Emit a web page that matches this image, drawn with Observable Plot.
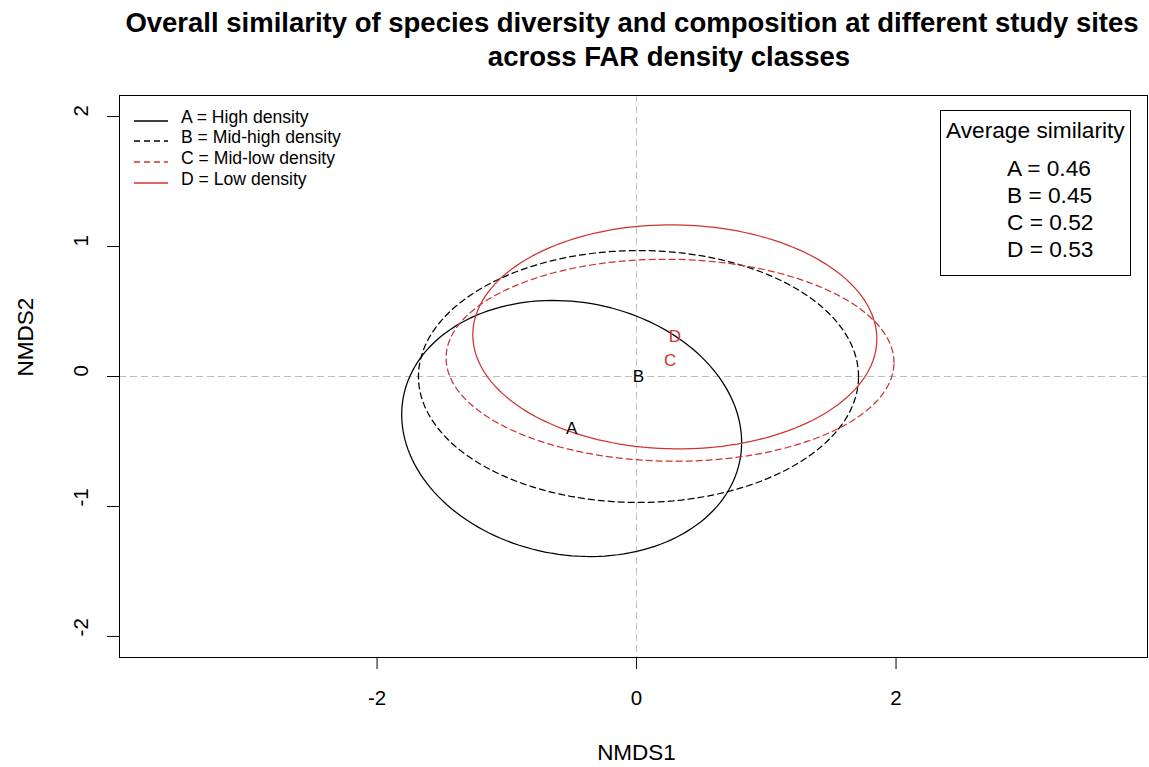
<!DOCTYPE html>
<html><head><meta charset="utf-8">
<script src="https://cdn.jsdelivr.net/npm/d3@7"></script>
<script src="https://cdn.jsdelivr.net/npm/@observablehq/plot@0.6"></script>
<style>
body{margin:0;background:#fff;font-family:"Liberation Sans",Arial,sans-serif;color:#000;}
#wrap{position:relative;width:1149px;height:767px;overflow:hidden;background:#fff;}
.abs{position:absolute;white-space:nowrap;line-height:1;}
.title{font-weight:bold;font-size:27.5px;transform:translate(-50%,-50%);}
.leg{font-size:17.6px;transform:translateY(-50%);}
.box{border:1px solid #000;box-sizing:border-box;}
.bt{font-size:22.7px;transform:translateY(-50%);}
</style></head><body>
<div id="wrap">
  <div id="chart" class="abs" style="left:0;top:80px"></div>
</div>
<script>
// ---- data ----
const groups = ["A", "B", "C", "D"];
const groupNames = ["High density", "Mid-high density", "Mid-low density", "Low density"];
// ellipse centres (NMDS1, NMDS2)
const centerX = [-0.50, 0.015, 0.258, 0.295];
const centerY = [-0.40, 0.00, 0.125, 0.305];
// ellipse half-extents along NMDS1 / NMDS2 and their covariance term
const halfWidth = [1.31, 1.696, 1.726, 1.557];
const halfHeight = [0.985, 0.969, 0.777, 0.862];
const covXY = [-0.14, 0.0, -0.03, -0.025];
const avgSimilarity = ["0.46", "0.45", "0.52", "0.53"];
const xTicks = [-2, 0, 2];
const yTicks = [-2, -1, 0, 1, 2];
const titleLines = ["Overall similarity of species diversity and composition at different study sites", "across FAR density classes"];

// ---- styles ----
const RED = "#cd3333";
const colors = ["#000000", "#000000", RED, RED];
const dashes = [null, "6,4", "6,4", null];

// ellipse outlines built from the parameters above
const ellipsePts = [];
groups.forEach((g, i) => {
  const a = halfWidth[i], off = covXY[i] / a;
  const b = Math.sqrt(halfHeight[i] ** 2 - off ** 2);
  const n = 160;
  for (let k = 0; k <= n; k++) {
    const t = 2 * Math.PI * k / n;
    ellipsePts.push({group: g, x: centerX[i] + a * Math.cos(t), y: centerY[i] + off * Math.cos(t) + b * Math.sin(t)});
  }
});
const centres = groups.map((g, i) => ({group: g, x: centerX[i], y: centerY[i], color: colors[i]}));

const marks = [
  Plot.ruleX([0], {stroke: "#bdbdbd", strokeDasharray: "7,4", strokeWidth: 1}),
  Plot.ruleY([0], {stroke: "#bdbdbd", strokeDasharray: "7,4", strokeWidth: 1}),
];
groups.forEach((g, i) => {
  marks.push(Plot.line(ellipsePts.filter(d => d.group === g), {
    x: "x", y: "y", stroke: colors[i], strokeWidth: 1.25,
    strokeDasharray: dashes[i] || undefined
  }));
});
marks.push(
  Plot.text(centres, {x: "x", y: "y", text: "group", fill: d => d.color, fontSize: 17}),
  Plot.frame({stroke: "#000", strokeWidth: 1}),
  Plot.axisX(xTicks, {tickSize: 12, tickPadding: 21, fontSize: 20.5, tickFormat: d => String(d), label: null, stroke: "#000"}),
  Plot.axisY(yTicks, {tickSize: 12, tickFormat: () => "", label: null, stroke: "#000"}),
  Plot.text(yTicks, {y: d => d, text: d => String(d), frameAnchor: "left", dx: -38, rotate: -90, fontSize: 20.5}),
  Plot.text(["NMDS1"], {text: d => d, frameAnchor: "bottom", dx: 3, dy: 102, fontSize: 22.5}),
  Plot.text(["NMDS2"], {text: d => d, frameAnchor: "left", dx: -94, rotate: -90, fontSize: 22.5})
);

const chart = Plot.plot({
  width: 1149, height: 687,
  marginTop: 15, marginBottom: 110, marginLeft: 119, marginRight: 2,
  x: {domain: [-3.985, 3.938]},
  y: {domain: [-2.162, 2.162]},
  color: {type: "identity"},
  style: {fontFamily: "Liberation Sans, Arial, sans-serif", background: "#fff", color: "#000"},
  marks
});
document.getElementById("chart").appendChild(chart);

const wrap = document.getElementById("wrap");
function addDiv(cls, style, html) {
  const d = document.createElement("div");
  d.className = "abs " + cls;
  d.setAttribute("style", style);
  d.innerHTML = html;
  wrap.appendChild(d);
  return d;
}
// title
addDiv("title", "left:632px;top:23px", titleLines[0]);
addDiv("title", "left:669px;top:57px", titleLines[1]);
// line-type legend
groups.forEach((g, i) => {
  const y = 117.5 + i * 20.8;
  const dash = dashes[i] ? `stroke-dasharray="${dashes[i]}"` : "";
  addDiv("", `left:133px;top:${y - 5}px`, `<svg width="36" height="10"><line x1="1" x2="35" y1="5" y2="5" stroke="${colors[i]}" stroke-width="1.3" ${dash}/></svg>`);
  addDiv("leg", `left:181px;top:${y}px`, `${g} = ${groupNames[i]}`);
});
// similarity box
addDiv("box", "left:940px;top:110px;width:191px;height:166px", "");
addDiv("bt", "left:946px;top:130px", "Average similarity");
groups.forEach((g, i) => {
  addDiv("bt", `left:1007px;top:${168 + i * 27}px`, `${g} = ${avgSimilarity[i]}`);
});
</script>
</body></html>
